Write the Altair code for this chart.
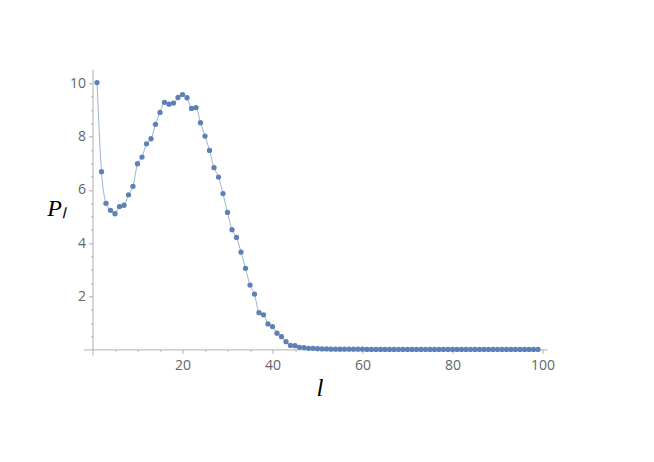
import altair as alt
import pandas as pd

l_values = list(range(1, 100))
p_values = [
    10.03, 6.68, 5.49, 5.23, 5.10, 5.37, 5.42, 5.81, 6.13, 6.98,
    7.23, 7.73, 7.92, 8.46, 8.91, 9.29, 9.22, 9.26, 9.47, 9.58,
    9.46, 9.06, 9.09, 8.52, 8.02, 7.48, 6.83, 6.48, 5.86, 5.15,
    4.50, 4.21, 3.66, 3.05, 2.42, 2.08, 1.38, 1.30, 0.96, 0.86,
    0.61, 0.48, 0.29, 0.15, 0.14, 0.08, 0.07, 0.04, 0.04, 0.03,
    0.02, 0.02, 0.01, 0.01, 0.01, 0.01, 0.01, 0.01, 0.01, 0.01,
    0.0, 0.0, 0.0, 0.0, 0.0, 0.0, 0.0, 0.0, 0.0, 0.0,
    0.0, 0.0, 0.0, 0.0, 0.0, 0.0, 0.0, 0.0, 0.0, 0.0,
    0.0, 0.0, 0.0, 0.0, 0.0, 0.0, 0.0, 0.0, 0.0, 0.0,
    0.0, 0.0, 0.0, 0.0, 0.0, 0.0, 0.0, 0.0, 0.0,
]
x_ticks = [v * 5 for v in range(1, 21)]
y_ticks = [v * 0.5 for v in range(1, 21)]

df = pd.DataFrame({"l": l_values, "P": p_values})

AXIS_GRAY = "#b0b0b0"
LABEL_GRAY = "#666666"
BLUE = "#5E81B5"

x_enc = alt.X(
    "l:Q",
    scale=alt.Scale(domain=[-2, 101], nice=False, zero=False),
    axis=alt.Axis(
        title="l",
        values=x_ticks,
        labelExpr="datum.value % 20 === 0 ? format(datum.value, 'd') : ''",
        labelOverlap=False,
        labelFlush=False,
        grid=False,
        offset=-5.6,
        domainColor=AXIS_GRAY,
        tickColor=AXIS_GRAY,
        tickSize={"condition": {"test": "datum.value % 20 === 0", "value": 4}, "value": 2},
        labelPadding=5,
        labelColor=LABEL_GRAY,
        labelFont="Open Sans",
        labelFontSize=14,
        titleFont="Liberation Serif",
        titleFontStyle="italic",
        titleFontWeight="normal",
        titleFontSize=25,
        titleColor="black",
        titleAlign="center",
        titleBaseline="alphabetic",
        titleX=236,
        titleY=45.6,
    ),
)

y_enc = alt.Y(
    "P:Q",
    scale=alt.Scale(domain=[-0.21, 10.53], nice=False, zero=False),
    axis=alt.Axis(
        title="Pₗ",
        values=y_ticks,
        labelExpr="datum.value % 2 === 0 ? format(datum.value, 'd') : ''",
        labelOverlap=False,
        labelFlush=False,
        grid=False,
        offset=-9,
        domainColor=AXIS_GRAY,
        tickColor=AXIS_GRAY,
        tickSize={"condition": {"test": "datum.value % 2 === 0", "value": 4}, "value": 2},
        labelPadding=3,
        labelColor=LABEL_GRAY,
        labelFont="Open Sans",
        labelFontSize=14,
        titleFont="Liberation Serif",
        titleFontStyle="italic",
        titleFontWeight="normal",
        titleFontSize=24,
        titleColor="black",
        titleAngle=0,
        titleAlign="center",
        titleBaseline="alphabetic",
        titleX=-36.5,
        titleY=146,
    ),
)

line = alt.Chart(df).mark_line(
    color=BLUE, strokeWidth=1, opacity=0.6, interpolate="monotone"
).encode(x=x_enc, y=y_enc)

points = alt.Chart(df).mark_circle(color=BLUE, size=28, opacity=1).encode(
    x=x_enc, y=y_enc
)

chart = (
    alt.layer(line, points)
    .properties(
        width=463.5,
        height=285.7,
        autosize=alt.AutoSizeParams(type="none"),
        padding={"left": 75.5, "top": 61.3, "right": 20, "bottom": 60},
        background="white",
    )
    .configure_view(stroke=None)
)

chart.save("out.html", embed_options={"renderer": "svg", "actions": False})
